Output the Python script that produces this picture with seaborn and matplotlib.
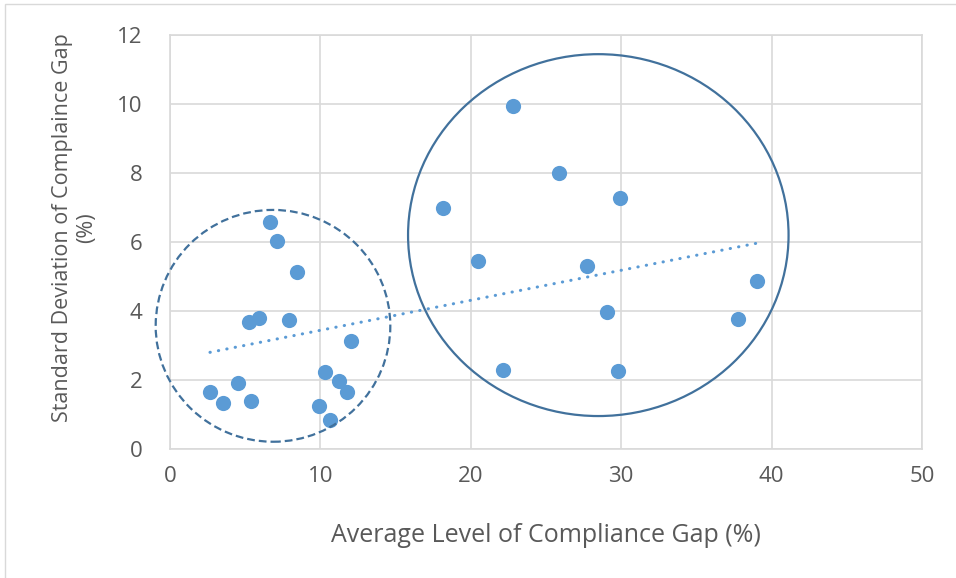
import numpy as np
import pandas as pd
import seaborn as sns
import matplotlib.pyplot as plt
from matplotlib.patches import Ellipse, Rectangle

# average compliance gap (%) and its standard deviation (%), one entry per country
avg_gap = [6.64, 7.11, 8.44, 5.27, 5.91, 7.93, 12.05, 2.66, 3.50, 4.52, 5.40,
           10.28, 11.21, 11.74, 9.90, 10.63,
           22.81, 25.85, 29.95, 18.14, 20.51, 27.73, 39.0, 29.08, 37.79, 22.17, 29.79]
sd_gap = [6.59, 6.04, 5.12, 3.69, 3.79, 3.75, 3.14, 1.64, 1.34, 1.92, 1.38,
          2.24, 1.96, 1.66, 1.26, 0.84,
          9.95, 7.99, 7.28, 6.99, 5.44, 5.30, 4.88, 3.96, 3.76, 2.29, 2.27]

df = pd.DataFrame({"avg": avg_gap, "sd": sd_gap})

sns.set_style("white")
plt.rcParams['font.family'] = ['Open Sans', 'DejaVu Sans']

fig = plt.figure(figsize=(9.56, 5.78), dpi=100)
ax = fig.add_axes([0.1778, 0.2232, 0.7866, 0.7162])

# outer chart frame (partly cut off in the original)
fig.patches.append(Rectangle((5 / 956, -0.1), 1.2, 1 - 4 / 578 + 0.1,
                             transform=fig.transFigure, fill=False,
                             edgecolor="#D9D9D9", linewidth=1))

sns.scatterplot(x="avg", y="sd", data=df, color="#5B9BD5", s=120,
                linewidth=0, ax=ax, zorder=3)
sns.regplot(x="avg", y="sd", data=df, scatter=False, ci=None, ax=ax,
            line_kws=dict(color="#5B9BD5", linewidth=2.2,
                          linestyle=(0, (0.1, 2.7)), dash_capstyle="round"))

# group outlines
ax.add_patch(Ellipse((6.85, 3.57), 15.6, 6.72, fill=False, edgecolor="#41719C",
                     linewidth=1.6, linestyle=(0, (3.5, 1.8)), zorder=4, clip_on=False))
ax.add_patch(Ellipse((28.48, 6.20), 25.3, 10.49, fill=False, edgecolor="#41719C",
                     linewidth=1.6, zorder=4, clip_on=False))

ax.set_xlim(0, 50)
ax.set_ylim(0, 12)
ax.set_xticks(range(0, 51, 10))
ax.set_yticks(range(0, 13, 2))
ax.grid(True, color="#D9D9D9", linewidth=1.2)
ax.set_axisbelow(True)
for sp in ax.spines.values():
    sp.set_color("#D9D9D9")
    sp.set_linewidth(1.2)
ax.tick_params(axis="both", length=0, labelsize=16, labelcolor="#595959")
ax.tick_params(axis="x", pad=12)
ax.tick_params(axis="y", pad=20)

ax.set_xlabel("Average Level of Compliance Gap (%)", fontsize=18, color="#595959", labelpad=26)
ax.set_ylabel("Standard Deviation of Complaince Gap\n(%)", fontsize=15.5, color="#595959",
              labelpad=14)
ax.yaxis.label.set_y(0.535)

fig.savefig("out.png", dpi=100)
